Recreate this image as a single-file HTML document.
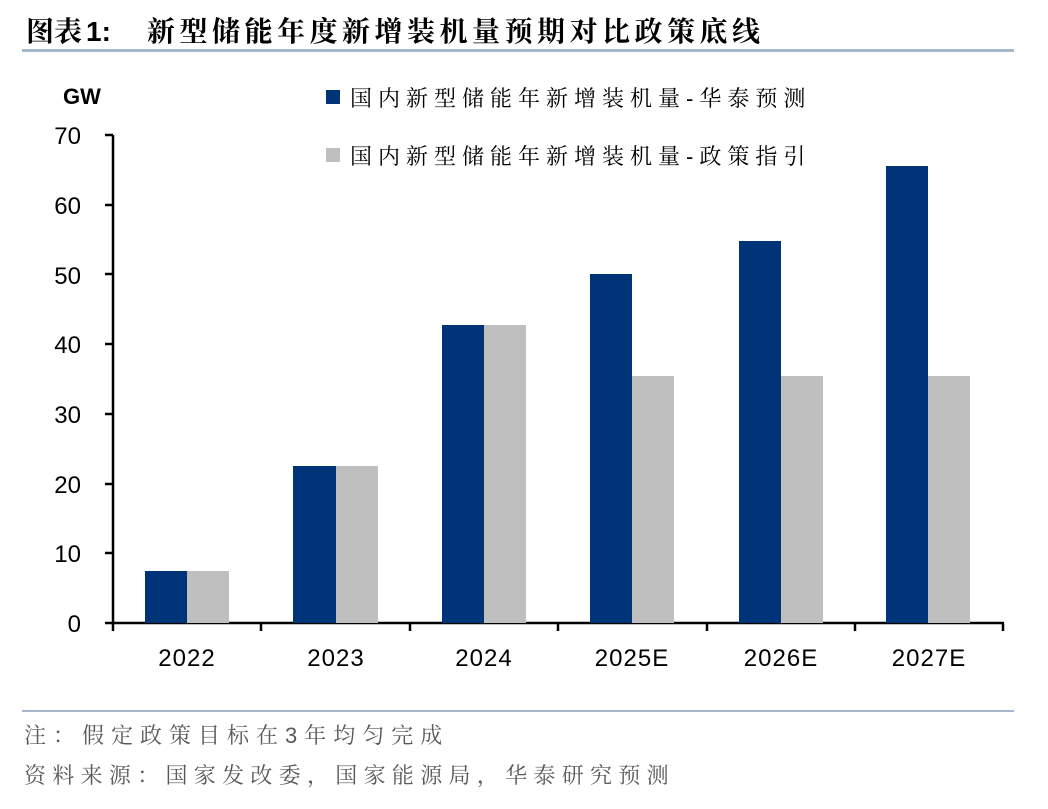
<!DOCTYPE html><html><head><meta charset="utf-8"><style>
body{margin:0;background:#fff;width:1048px;height:804px;overflow:hidden}
svg text{font-family:"Liberation Sans","Noto Serif CJK SC",serif}
</style></head><body>
<svg width="1048" height="804" xmlns="http://www.w3.org/2000/svg">
<text x="26" y="41" font-size="28" font-weight="bold" font-family="'Noto Serif CJK SC',serif">图表</text>
<text x="86" y="41" font-size="28" font-weight="bold" font-family="Liberation Sans">1:</text>
<text x="147" y="41" font-size="28" font-weight="bold" font-family="'Noto Serif CJK SC',serif" letter-spacing="4.5">新型储能年度新增装机量预期对比政策底线</text>
<rect x="22" y="49" width="992" height="3" fill="#a6b8cc"/>
<text x="63" y="104" font-size="22" font-weight="bold" font-family="Liberation Sans">GW</text>
<g font-size="24" text-anchor="end" font-family="Liberation Sans">
<text x="81" y="632">0</text><text x="81" y="562">10</text><text x="81" y="493">20</text><text x="81" y="423">30</text><text x="81" y="353">40</text><text x="81" y="284">50</text><text x="81" y="214">60</text><text x="81" y="144">70</text></g>
<g stroke="#000" stroke-width="2.5">
<line x1="113" y1="135" x2="113" y2="624"/><line x1="112" y1="623" x2="1004" y2="623"/>
<line x1="105" y1="135" x2="113" y2="135"/><line x1="105" y1="205" x2="113" y2="205"/><line x1="105" y1="274" x2="113" y2="274"/><line x1="105" y1="344" x2="113" y2="344"/><line x1="105" y1="414" x2="113" y2="414"/><line x1="105" y1="484" x2="113" y2="484"/><line x1="105" y1="553" x2="113" y2="553"/><line x1="105" y1="623" x2="113" y2="623"/>
<line x1="113" y1="623" x2="113" y2="631"/><line x1="261" y1="623" x2="261" y2="631"/><line x1="410" y1="623" x2="410" y2="631"/><line x1="558" y1="623" x2="558" y2="631"/><line x1="707" y1="623" x2="707" y2="631"/><line x1="855" y1="623" x2="855" y2="631"/><line x1="1003" y1="623" x2="1003" y2="631"/>
</g>
<g fill="#003478">
<rect x="145" y="571" width="42" height="52"/><rect x="293" y="466" width="43" height="157"/><rect x="442" y="325" width="42" height="298"/><rect x="590" y="274" width="42" height="349"/><rect x="739" y="241" width="42" height="382"/><rect x="886" y="166" width="42" height="457"/></g>
<g fill="#bfbfbf">
<rect x="187" y="571" width="42" height="52"/><rect x="336" y="466" width="42" height="157"/><rect x="484" y="325" width="42" height="298"/><rect x="632" y="376" width="42" height="247"/><rect x="781" y="376" width="42" height="247"/><rect x="928" y="376" width="42" height="247"/></g>
<g font-size="24" text-anchor="middle" font-family="Liberation Sans" letter-spacing="1">
<text x="187" y="666">2022</text><text x="336" y="666">2023</text><text x="484" y="666">2024</text><text x="632" y="666">2025E</text><text x="781" y="666">2026E</text><text x="929" y="666">2027E</text></g>
<rect x="326" y="90" width="14" height="14" fill="#003478"/>
<rect x="326" y="148" width="14" height="14" fill="#bfbfbf"/>
<text x="350" y="106" font-size="22" letter-spacing="6" font-family="'Noto Serif CJK SC',serif">国内新型储能年新增装机量-华泰预测</text>
<text x="350" y="164" font-size="22" letter-spacing="6" font-family="'Noto Serif CJK SC',serif">国内新型储能年新增装机量-政策指引</text>
<rect x="22" y="710" width="992" height="2" fill="#a6b8cc"/>
<text x="24" y="743" font-size="22" fill="#595959" letter-spacing="7" font-family="'Noto Serif CJK SC',serif">注：假定政策目标在3年均匀完成</text>
<text x="24" y="783" font-size="22" fill="#595959" letter-spacing="6.3" font-family="'Noto Serif CJK SC',serif">资料来源：国家发改委，国家能源局，华泰研究预测</text>
</svg></body></html>
